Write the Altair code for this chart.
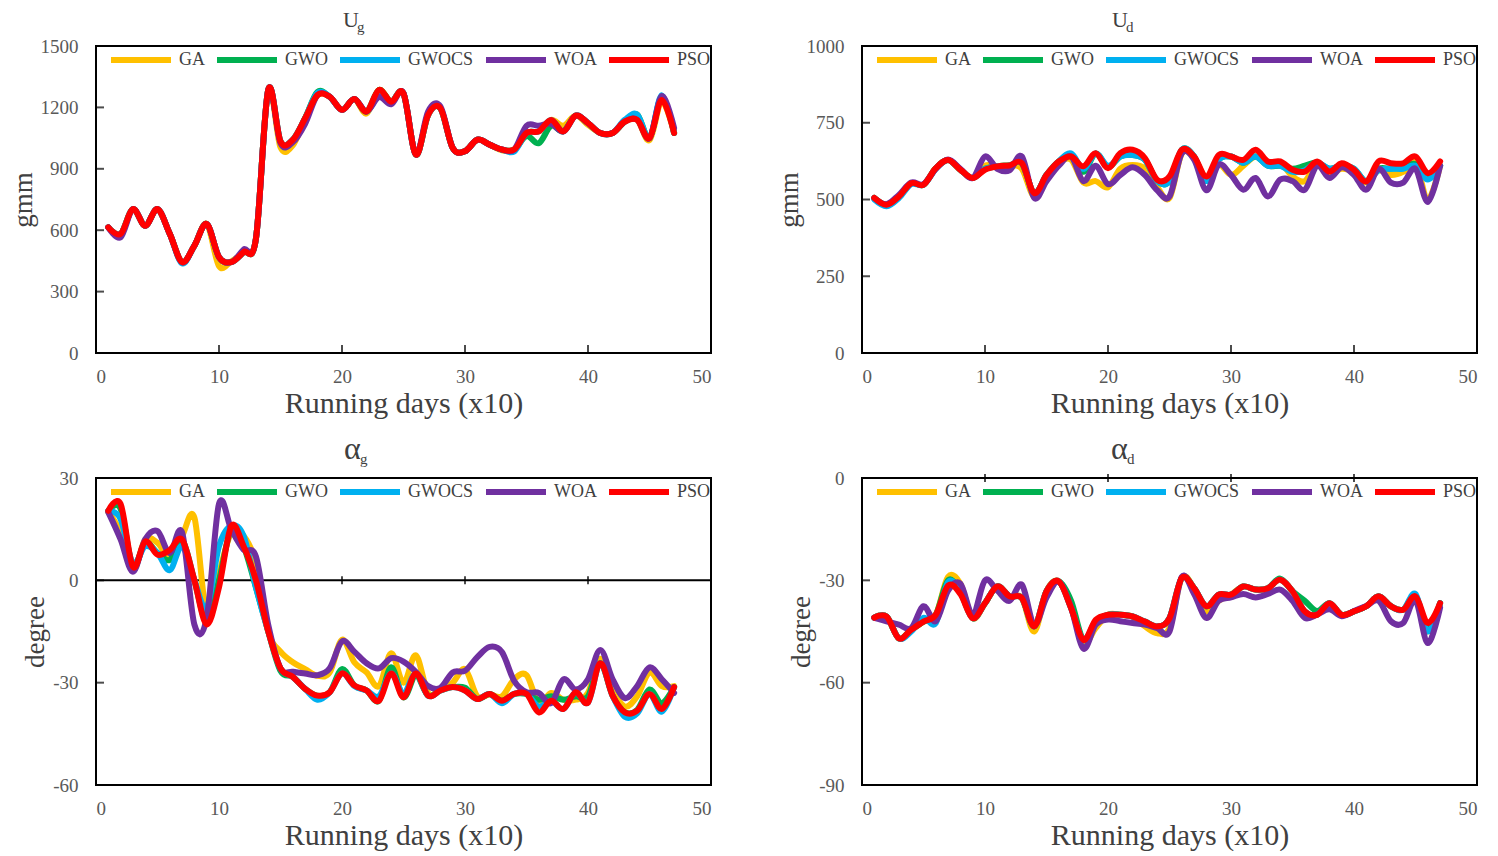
import altair as alt
import pandas as pd

FONT = "Liberation Serif"
X = list(range(1, 48))
SERIES = ["GA", "GWO", "GWOCS", "WOA", "PSO"]
COLORS = ["#FFC000", "#00B050", "#00B0F0", "#7030A0", "#FF0000"]
X_TICKS = [0, 10, 20, 30, 40, 50]
X_MINOR = [10, 20, 30, 40]

# ---- Ug (gmm) ----
UG_GA = [614, 582, 703, 622, 703, 582, 444, 525, 630, 425,
         448, 493, 557, 1285, 1005, 1015, 1147, 1260, 1252, 1188,
         1241, 1170, 1285, 1228, 1268, 970, 1163, 1196, 1002, 986,
         1042, 1018, 990, 994, 1075, 1083, 1139, 1110, 1160, 1115,
         1075, 1075, 1131, 1139, 1040, 1228, 1075]
UG_GWO = [614, 582, 703, 622, 703, 582, 444, 525, 630, 469,
          444, 493, 557, 1285, 1034, 1042, 1147, 1275, 1252, 1188,
          1241, 1180, 1285, 1228, 1268, 970, 1163, 1196, 1002, 986,
          1042, 1018, 994, 994, 1060, 1025, 1110, 1083, 1160, 1123,
          1075, 1075, 1131, 1165, 1050, 1250, 1075]
UG_GWOCS = [614, 582, 703, 622, 703, 582, 438, 525, 630, 469,
            444, 493, 557, 1285, 1034, 1042, 1147, 1270, 1252, 1188,
            1241, 1180, 1260, 1228, 1268, 970, 1163, 1196, 1002, 986,
            1042, 1018, 994, 985, 1075, 1083, 1139, 1083, 1160, 1123,
            1075, 1075, 1140, 1165, 1050, 1260, 1075]
UG_WOA = [614, 565, 703, 622, 703, 582, 444, 525, 630, 469,
          444, 505, 557, 1285, 1025, 1030, 1120, 1260, 1252, 1188,
          1241, 1180, 1250, 1215, 1270, 970, 1180, 1205, 1002, 986,
          1042, 1018, 994, 994, 1110, 1110, 1120, 1083, 1160, 1123,
          1075, 1075, 1131, 1139, 1050, 1255, 1100]
UG_PSO = [614, 582, 703, 622, 703, 582, 444, 525, 630, 469,
          444, 493, 557, 1285, 1034, 1042, 1147, 1260, 1252, 1188,
          1241, 1180, 1285, 1228, 1268, 970, 1163, 1196, 1002, 986,
          1042, 1018, 994, 994, 1075, 1083, 1139, 1083, 1160, 1123,
          1075, 1075, 1131, 1139, 1050, 1236, 1075]

# ---- Ud (gmm) ----
UD_GA = [505, 483, 510, 553, 548, 602, 629, 597, 570, 610,
         608, 611, 600, 510, 575, 620, 630, 555, 560, 540,
         600, 612, 600, 540, 505, 650, 635, 570, 615, 580,
         610, 640, 620, 620, 575, 560, 615, 585, 600, 590,
         555, 595, 580, 590, 620, 500, 610]
UD_GWO = [505, 483, 510, 553, 548, 602, 629, 597, 570, 600,
          608, 611, 618, 521, 580, 624, 645, 590, 650, 605,
          640, 645, 630, 560, 560, 662, 640, 560, 630, 640,
          620, 640, 610, 610, 600, 610, 620, 600, 610, 600,
          559, 600, 600, 605, 615, 570, 610]
UD_GWOCS = [500, 478, 505, 550, 548, 600, 629, 597, 570, 600,
            608, 611, 618, 521, 580, 624, 650, 600, 650, 610,
            640, 645, 630, 560, 560, 662, 640, 560, 630, 640,
            620, 640, 610, 610, 590, 595, 620, 600, 610, 600,
            559, 595, 600, 600, 610, 565, 610]
UD_WOA = [505, 485, 515, 555, 550, 600, 630, 600, 570, 640,
          600, 595, 640, 505, 560, 610, 640, 560, 610, 550,
          580, 605, 580, 530, 510, 650, 630, 530, 613, 580,
          532, 570, 510, 565, 560, 532, 610, 570, 605, 580,
          532, 600, 555, 555, 600, 492, 610]
UD_PSO = [505, 483, 510, 553, 548, 602, 629, 597, 570, 597,
          608, 611, 618, 521, 580, 624, 640, 608, 651, 602,
          651, 662, 635, 564, 575, 662, 640, 575, 645, 640,
          629, 662, 624, 624, 597, 591, 624, 591, 618, 597,
          559, 624, 618, 618, 640, 586, 624]

# ---- alpha_g (degree) ----
AG_GA = [20, 14, 3, 12, 11, 7, 13, 18.4, -10, 2,
         14, 13, 5, -15, -20.9, -24, -26, -28, -27, -17.4,
         -24, -27, -31, -21.4, -30, -22, -33, -32, -30, -26,
         -34, -33.5, -34, -29, -27.8, -36, -33, -35, -35, -33,
         -23, -32, -37, -34, -27, -31, -31]
AG_GWO = [20.4, 21, 4.0, 11, 8, 6, 11.9, 0, -12, 0,
          15, 10, -2, -14.9, -26.5, -28.3, -31.8, -33.8, -32.8, -26,
          -30.8, -32.3, -35.3, -25.5, -34.3, -28, -33.8, -32.3, -31.3, -31.5,
          -34.8, -33.3, -35.3, -33.3, -33.3, -35, -34, -35, -34, -34,
          -24.3, -33.8, -38.7, -38, -32, -36, -31.3]
AG_GWOCS = [20.4, 18, 5, 10, 8, 3, 10, 0, -8, 10,
            16, 13, -2, -14.9, -25.8, -28.3, -31.8, -35, -32.8, -27.3,
            -31, -32.3, -34, -27.3, -33, -27.3, -33.8, -32.3, -31.3, -32.3,
            -34.8, -33.3, -36, -33.3, -33.3, -37, -35.3, -37.7, -32.8, -35.8,
            -24.3, -33.8, -40, -39, -33.3, -38.5, -31.3]
AG_WOA = [20, 12, 2.5, 12, 14.4, 8, 14, -13, -11, 22.4,
          14.9, 9, 7, -13, -25.8, -26.8, -27.3, -27.8, -25.8, -17.9,
          -20.9, -24.3, -25.8, -22.8, -23.8, -26.8, -31, -31.5, -27, -26.5,
          -22.5, -19.5, -21, -29.5, -32.8, -33, -36, -29, -32, -29,
          -20.4, -29, -34.5, -31, -25.5, -29, -33]
AG_PSO = [20.4, 22.4, 4.0, 11.4, 7.5, 8.9, 11.9, 0, -12.9, -2.0,
          15.9, 10, 0, -14.9, -25.8, -28.3, -31.8, -33.8, -32.8, -27.3,
          -30.8, -32.3, -35.3, -27.3, -34.3, -27.3, -33.8, -32.3, -31.3, -32.3,
          -34.8, -33.3, -35.3, -33.3, -33.3, -38.7, -35.3, -37.7, -32.8, -35.8,
          -24.3, -33.8, -38.7, -38.2, -33.3, -37.7, -31.3]

# ---- alpha_d (degree) ----
AD_GA = [-40.9, -40.6, -47.0, -44.5, -42.1, -40.1, -29, -31, -41.1, -36.7,
         -31.8, -34.7, -35.2, -45, -33.2, -30.3, -38.1, -48.5, -44, -40.1,
         -40.1, -40.6, -43.5, -45.5, -44, -29.3, -32.3, -39, -36, -34.2,
         -31.8, -32.7, -32.3, -29.8, -33.2, -39.1, -40.1, -36.7, -40.1, -39.1,
         -37.6, -34.7, -37.6, -38.6, -34.7, -45, -36.7]
AD_GWO = [-40.9, -40.6, -47.0, -44.5, -42.1, -40.1, -30, -33.5, -41.1, -36.7,
          -31.8, -34.7, -35.2, -43.5, -33.2, -30.3, -36, -47.4, -42, -40.1,
          -40.1, -40.6, -42.1, -43.5, -41.1, -29.3, -32.3, -37.6, -34.2, -34.2,
          -31.8, -32.7, -32.3, -29.5, -33.2, -36, -39, -36.7, -40.1, -39.1,
          -37.6, -34.7, -37.6, -38.6, -34.7, -44, -36.7]
AD_GWOCS = [-40.9, -40.6, -47.0, -45, -41, -42.5, -30.5, -33.5, -41.1, -36.7,
            -31.8, -34.7, -35.2, -43.5, -33.2, -30.3, -38.1, -47.4, -42, -40.1,
            -40.1, -40.6, -42.1, -43.5, -41.1, -29.3, -32.3, -37.6, -34.2, -34.2,
            -31.8, -32.7, -32.3, -29.8, -33.2, -39.1, -40.1, -36.7, -40.1, -39.1,
            -37.6, -34.7, -37.6, -38.6, -34, -45, -36.7]
AD_WOA = [-41, -42, -43, -44, -37.6, -42, -33, -31, -40, -30,
          -33, -36, -31.3, -43, -35, -30.5, -38, -50, -43, -41.5,
          -42, -42.5, -43, -44, -45, -29, -34, -41, -36, -35,
          -34, -35, -34, -32.7, -36, -41, -40, -38.5, -40.5, -39,
          -37.5, -36, -42, -42.5, -36, -48.4, -38]
AD_PSO = [-40.9, -40.6, -47.0, -44.5, -42.1, -40.1, -31.5, -34, -41.1, -36.7,
          -31.8, -34.7, -35.2, -43.5, -33.2, -30.3, -38.1, -47.4, -41.6, -40.1,
          -40.1, -40.6, -42.1, -43.5, -41.1, -29.3, -32.3, -37.6, -34.2, -34.2,
          -31.8, -32.7, -32.3, -29.8, -33.2, -39.1, -40.1, -36.7, -40.1, -39.1,
          -37.6, -34.7, -37.6, -38.6, -34.7, -42.5, -36.7]

W, H = 615, 307


def panel(series_vals, y_domain, y_ticks, y_title, main, sub, main_size,
          title_x, zero_line=False, xtick_offset=0):
    rows = []
    for s, vals in zip(SERIES, series_vals):
        for xv, yv in zip(X, vals):
            rows.append({"day": xv, "value": yv, "series": s})
    df = pd.DataFrame(rows)

    x_enc = alt.X("day:Q", scale=alt.Scale(domain=[0, 50], nice=False, zero=False),
                  axis=alt.Axis(values=X_TICKS, title="Running days (x10)", ticks=False,
                                domain=False, grid=False, labelPadding=14, titlePadding=2,
                                labelFont=FONT, labelFontSize=19, labelColor="#595959",
                                titleFont=FONT, titleFontSize=30, titleFontWeight="normal",
                                titleColor="#404040"))
    y_enc = alt.Y("value:Q", scale=alt.Scale(domain=y_domain, nice=False, zero=False),
                  axis=alt.Axis(values=y_ticks, title=y_title, ticks=False, domain=False,
                                grid=False, labelPadding=18, titlePadding=3,
                                labelExpr="'' + datum.value",
                                labelFont=FONT, labelFontSize=19, labelColor="#595959",
                                titleFont=FONT, titleFontSize=27, titleFontWeight="normal",
                                titleColor="#404040"))
    color = alt.Color("series:N", scale=alt.Scale(domain=SERIES, range=COLORS),
                      legend=alt.Legend(title=None, orient="none", legendX=12, legendY=-19,
                                        direction="horizontal", symbolType="stroke",
                                        symbolSize=3600, symbolStrokeWidth=6,
                                        labelFont=FONT, labelFontSize=18,
                                        labelColor="#404040", labelOffset=5,
                                        columnPadding=0, padding=0))

    layers = []
    if zero_line:
        zdf = pd.DataFrame({"value": [0]})
        layers.append(alt.Chart(zdf).mark_rule(color="black", strokeWidth=2).encode(y=y_enc))
    xt = pd.DataFrame({"day": X_MINOR, "value": [0] * len(X_MINOR)})
    layers.append(alt.Chart(xt).mark_tick(orient="vertical", size=8, thickness=2,
                                          color="black", yOffset=xtick_offset)
                  .encode(x=x_enc, y=y_enc))
    yt = pd.DataFrame({"day": [0] * len(y_ticks), "value": y_ticks})
    layers.append(alt.Chart(yt).mark_tick(orient="horizontal", size=8, thickness=2,
                                          color="black", xOffset=4)
                  .encode(x=x_enc, y=y_enc))
    for s in SERIES:
        layers.append(
            alt.Chart(df).transform_filter(alt.datum.series == s)
            .mark_line(interpolate="cardinal", strokeWidth=6, strokeCap="round",
                       strokeJoin="round")
            .encode(x=x_enc, y=y_enc, color=color)
        )
    t1 = pd.DataFrame({"t": [main]})
    t2 = pd.DataFrame({"t": [sub]})
    layers.append(alt.Chart(t1).mark_text(font=FONT, fontSize=main_size, align="left",
                                          baseline="alphabetic", color="#404040")
                  .encode(x=alt.value(title_x), y=alt.value(-19), text="t:N"))
    layers.append(alt.Chart(t2).mark_text(font=FONT, fontSize=15, align="left",
                                          baseline="alphabetic", color="#404040")
                  .encode(x=alt.value(title_x + (14 if main == "U" else 16)),
                          y=alt.value(-14), text="t:N"))
    return alt.layer(*layers).properties(width=W, height=H)


p1 = panel([UG_GA, UG_GWO, UG_GWOCS, UG_WOA, UG_PSO], [0, 1500],
           [0, 300, 600, 900, 1200, 1500], "gmm", "U", "g", 22, 247, xtick_offset=-4)
p2 = panel([UD_GA, UD_GWO, UD_GWOCS, UD_WOA, UD_PSO], [0, 1000],
           [0, 250, 500, 750, 1000], "gmm", "U", "d", 22, 250, xtick_offset=-4)
p3 = panel([AG_GA, AG_GWO, AG_GWOCS, AG_WOA, AG_PSO], [-60, 30],
           [-60, -30, 0, 30], "degree", "α", "g", 32, 248, zero_line=True)
p4 = panel([AD_GA, AD_GWO, AD_GWOCS, AD_WOA, AD_PSO], [-90, 0],
           [-90, -60, -30, 0], "degree", "α", "d", 32, 249)

chart = (
    alt.concat(p1, p2, p3, p4, columns=2, spacing={"row": 125, "column": 151}, bounds="flush")
    .resolve_scale(color="independent", x="independent", y="independent")
    .resolve_legend(color="independent")
    .configure_view(stroke="black", strokeWidth=2)
    .properties(padding={"left": 0, "top": 0, "right": 0, "bottom": 0}, background="white")
)

chart.save("out.html", embed_options={"renderer": "svg", "actions": False})
